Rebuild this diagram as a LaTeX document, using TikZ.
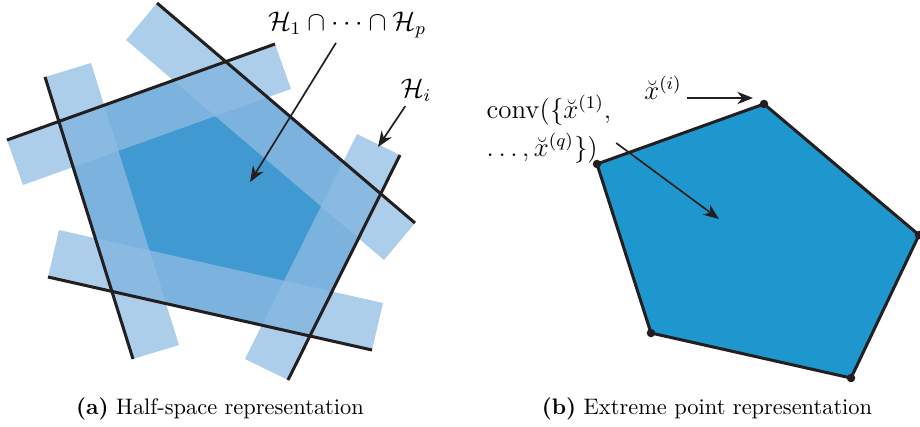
\documentclass[tikz,border=0pt]{standalone}
\usepackage{amsmath, amssymb}
\usetikzlibrary{arrows.meta, positioning, calc}
\definecolor{PolyDark}{RGB}{65,153,209}
\definecolor{BandBlue}{RGB}{144,189,227}
\definecolor{PolyFill}{RGB}{30,151,207}
\definecolor{EdgeBlack}{RGB}{35,31,32}

\begin{document}
\begin{tikzpicture}[
  x=0.446pt, y=-0.446pt,
  hline/.style={draw=EdgeBlack, line width=1.35pt},
  band/.style={fill=BandBlue, fill opacity=0.75},
  arr/.style={draw=EdgeBlack, line width=0.75pt, -{Stealth[length=7pt, width=5.5pt, inset=2.2pt]}},
  lab/.style={font=\large, inner sep=2pt},
  vtx/.style={fill=EdgeBlack}
]
\useasboundingbox (0,0) rectangle (920,426);

% (a) half-spaces
\coordinate (a1) at (157,3);   \coordinate (b1) at (415,223);
\coordinate (c1) at (384,260); \coordinate (d1) at (126,40);
\coordinate (a2) at (7,140);   \coordinate (b2) at (275,44);
\coordinate (c2) at (291,89);  \coordinate (d2) at (23,185);
\coordinate (a3) at (45,77);   \coordinate (b3) at (133,359);
\coordinate (c3) at (179,345); \coordinate (d3) at (91,63);
\coordinate (a4) at (48,277);  \coordinate (b4) at (372,350);
\coordinate (c4) at (383,303); \coordinate (d4) at (59,230);
\coordinate (a5) at (400,155); \coordinate (b5) at (288,380);
\coordinate (c5) at (245,359); \coordinate (d5) at (357,134);

\fill[PolyDark] (intersection of a2--b2 and a3--b3)
  -- (intersection of a2--b2 and a1--b1)
  -- (intersection of a1--b1 and a5--b5)
  -- (intersection of a5--b5 and a4--b4)
  -- (intersection of a4--b4 and a3--b3) -- cycle;
\foreach \i in {1,...,5}
  \fill[band] (a\i) -- (b\i) -- (c\i) -- (d\i) -- cycle;
\foreach \i in {1,...,5}
  \draw[hline] (a\i) -- (b\i);

\node[lab] (hall) at (347,25) {$\mathcal{H}_1\cap\cdots\cap\mathcal{H}_p$};
\node[lab] (hi) at (416,90) {$\mathcal{H}_i$};
\coordinate (hallpt) at (250,182);
\coordinate (hipt) at (378,147);
\draw[arr] (hall) -- (hallpt);
\draw[arr] (hi) -- (hipt);

\node (capa) at (220,409) {\textbf{(a)}~Half-space representation};

% (b) extreme points
\coordinate (v1) at (764,104);
\coordinate (v2) at (919,235);
\coordinate (v3) at (851,378);
\coordinate (v4) at (651,333);
\coordinate (v5) at (597,164);
\draw[hline, fill=PolyFill, line join=round] (v1) -- (v2) -- (v3) -- (v4) -- (v5) -- cycle;
\foreach \i in {1,...,5}
  \fill[vtx] (v\i) circle (1.9pt);

\node[lab] (xi) at (663,88) {$\breve{x}^{(i)}$};
\node[lab, align=left] (conv) at (549,129) {$\mathrm{conv}(\{\breve{x}^{(1)},$\\[3pt]$\ldots,\breve{x}^{(q)}\})$};
\coordinate (xipt) at (753,98);
\coordinate (convpt) at (719,219);
\draw[arr] (xi.east |- xipt) -- (xipt);
\draw[arr] ($(conv.east)+(0,14)$) -- (convpt);

\node (capb) at (707,409) {\textbf{(b)}~Extreme point representation};
\end{tikzpicture}
\end{document}
